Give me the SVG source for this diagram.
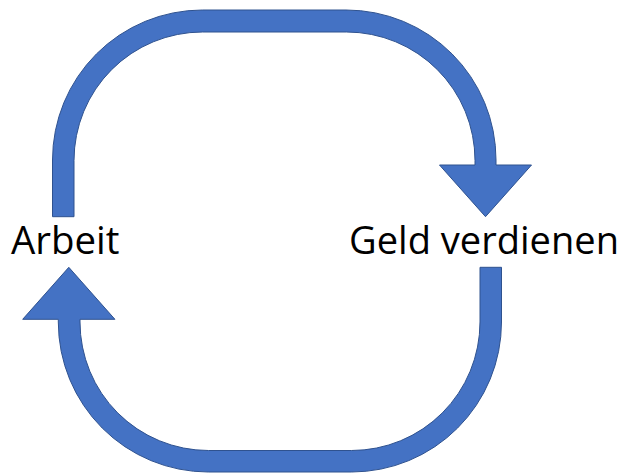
<svg xmlns="http://www.w3.org/2000/svg" width="623" height="474" viewBox="0 0 623 474">
<style>
.arrow{fill:#4472C4;stroke:#2F528F;stroke-width:1;stroke-linejoin:miter}
.label{font-family:"Open Sans","Liberation Sans",sans-serif;font-size:39px;fill:#000}
</style>
<rect width="623" height="474" fill="#fff"/>
<g id="connectors">
<path id="arrow-top" class="arrow" d="M52.5,216.7 L52.5,160 A150,150 0 0 1 202.5,10 L346,10 A150,150 0 0 1 496,160 L496,165 L531.5,165 L485.5,216.7 L439.5,165 L475,165 L475,160.5 A128.5,128.5 0 0 0 346.5,32 L202.5,32 A128.5,128.5 0 0 0 74,160.5 L74,216.7 Z"/>
<path id="arrow-bottom" class="arrow" d="M501.5,267.3 L501.5,322 A150,150 0 0 1 351.5,472 L208.3,472 A150,150 0 0 1 58.3,322 L58.3,319.3 L22.7,319.3 L68.8,267.3 L114.9,319.3 L80,319.3 L80,322 A128.5,128.5 0 0 0 208.5,450.5 L351.5,450.5 A128.5,128.5 0 0 0 480,322 L480,267.3 Z"/>
</g>
<g id="node-arbeit">
<text class="label" x="11" y="254.3" textLength="108.5" lengthAdjust="spacingAndGlyphs">Arbeit</text>
</g>
<g id="node-geld">
<text class="label" x="349" y="254.3" textLength="270" lengthAdjust="spacingAndGlyphs">Geld verdienen</text>
</g>
</svg>
